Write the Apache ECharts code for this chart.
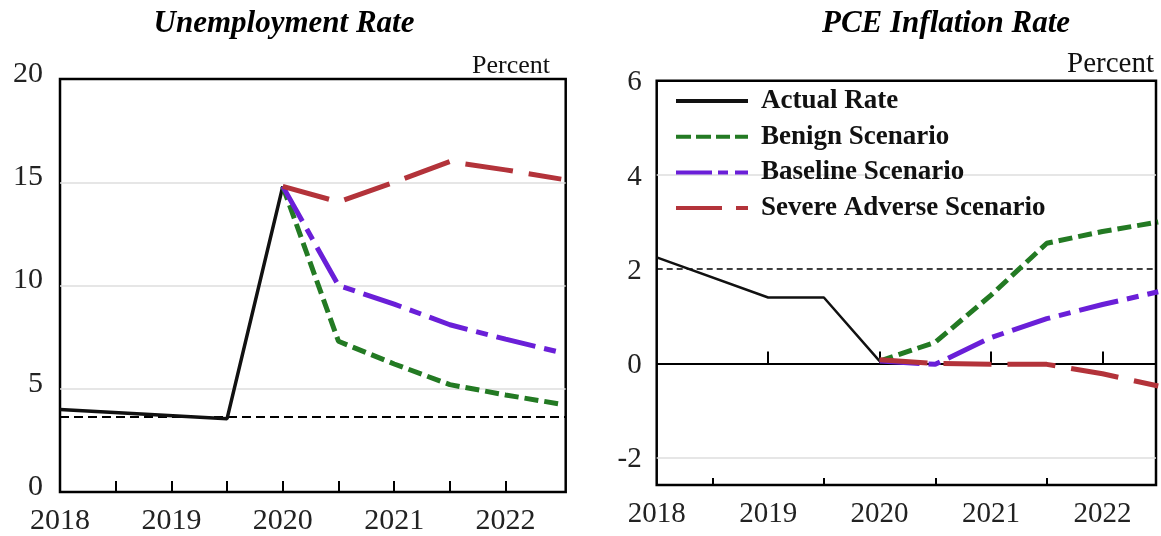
<!DOCTYPE html>
<html><head><meta charset="utf-8">
<script src="https://cdn.jsdelivr.net/npm/echarts@6/dist/echarts.min.js"></script>
<style>html,body{margin:0;padding:0;background:#fff}#c{width:1161px;height:536px}</style>
</head><body><div id="c"></div>
<script>
// ---------- data ----------
const seriesNames = ['Actual Rate', 'Benign Scenario', 'Baseline Scenario', 'Severe Adverse Scenario'];
const yearLabels = [2018, 2019, 2020, 2021, 2022];
const leftTicks = [2018.5, 2019, 2019.5, 2020, 2020.5, 2021, 2021.5, 2022];
const rightMajorTicks = [2019, 2020, 2021, 2022];
const rightMinorTicks = [2018.5, 2019.5, 2020.5, 2021.5];
const pceYLabels = [-2, 0, 2, 4, 6];

// Unemployment rate (percent)
const unActualX = [2018, 2019.5, 2020];
const unActual = [4.0, 3.55, 14.8];
const unScenX = [2020, 2020.5, 2021, 2021.5, 2022, 2022.5];
const unBenign = [14.8, 7.3, 6.2, 5.2, 4.7, 4.25];
const unBaseline = [14.8, 10.0, 9.1, 8.1, 7.4, 6.75];
const unSevere = [14.8, 14.05, 15.0, 16.0, 15.6, 15.15];
const unNatural = [3.65];
const unGrid = [5, 10, 15];

// PCE inflation rate (percent)
const pceActualX = [2018, 2019, 2019.5, 2020];
const pceActual = [2.25, 1.4, 1.4, 0.05];
const pceScenX = [2020, 2020.5, 2021, 2021.5, 2022, 2022.5];
const pceBenign = [0.05, 0.45, 1.45, 2.55, 2.8, 3.0];
const pceBaseline = [0.05, -0.02, 0.55, 0.95, 1.25, 1.52];
const pceSevere = [0.08, 0.0, -0.02, -0.02, -0.22, -0.48];
const pceTarget = [2];
const pceZero = [0];
const pceGrid = [-2, 4];

// ---------- styles ----------
const SERIF = "'Liberation Serif','Times New Roman',serif";
const C = { actual: '#111111', benign: '#237a23', baseline: '#6a1fd8', severe: '#b3333a', grid: '#dedede' };
const DASH = { benign: [14, 6], baseline: [40, 9, 12, 9], severe: [48, 16] };
const ICON = {
  actual: 'path://M0,0H72V4H0Z',
  benign: 'path://M0,0H15V4H0Z M20,0H35V4H20Z M40,0H54V4H40Z M59,0H72V4H59Z',
  baseline: 'path://M0,0H36V4H0Z M42,0H52V4H42Z M59,0H72V4H59Z',
  severe: 'path://M0,0H46V4H0Z M60,0H72V4H60Z'
};
const pair = (xs, ys) => xs.map((x, i) => [x, ys[i]]);

function lineSeries(name, data, xi, color, width, dash) {
  return {
    name, type: 'line', data, xAxisIndex: xi, yAxisIndex: xi, symbol: 'none',
    lineStyle: { color, width, type: dash || 'solid' }, itemStyle: { color },
    z: 3, animation: false
  };
}
function refSeries(xi, lines) {
  return {
    name: 'ref' + xi, type: 'line', data: [], xAxisIndex: xi, yAxisIndex: xi, z: 1, animation: false,
    markLine: { silent: true, z: 1, symbol: ['none', 'none'], label: { show: false }, animation: false, data: lines }
  };
}

const xLabel = (size, margin) => ({
  customValues: yearLabels, formatter: v => String(Math.round(v)),
  fontSize: size, fontFamily: SERIF, color: '#222', margin
});

const option = {
  animation: false,
  backgroundColor: '#fff',
  grid: [
    { left: 60, top: 79, width: 505.7, height: 413.7, show: true, borderColor: '#000', borderWidth: 2.5, backgroundColor: 'transparent' },
    { left: 656.7, top: 80.7, width: 499.3, height: 404.3, show: true, borderColor: '#000', borderWidth: 2.5, backgroundColor: 'transparent' }
  ],
  xAxis: [
    { type: 'value', gridIndex: 0, min: 2018, max: 2022.54, axisLine: { show: false }, splitLine: { show: false },
      axisTick: { show: true, inside: true, length: 11, customValues: leftTicks, lineStyle: { color: '#000', width: 2 } },
      axisLabel: xLabel(30, 14) },
    { type: 'value', gridIndex: 1, min: 2018, max: 2022.48, axisLine: { show: false }, splitLine: { show: false },
      axisTick: { show: true, inside: true, length: 12, customValues: rightMajorTicks, lineStyle: { color: '#000', width: 2 } },
      axisLabel: xLabel(29, 15) },
    { type: 'value', gridIndex: 1, position: 'bottom', offset: 0, min: 2018, max: 2022.48, axisLine: { show: false }, splitLine: { show: false },
      axisTick: { show: true, inside: true, length: 7, customValues: rightMinorTicks, lineStyle: { color: '#000', width: 2 } },
      axisLabel: { show: false } }
  ],
  yAxis: [
    { type: 'value', gridIndex: 0, min: 0, max: 20, interval: 5, axisLine: { show: false }, axisTick: { show: false },
      splitLine: { show: false },
      axisLabel: { fontSize: 30, fontFamily: SERIF, color: '#222', margin: 17, verticalAlign: 'bottom', lineHeight: 10 } },
    { type: 'value', gridIndex: 1, min: -2.58, max: 6, axisLine: { show: false }, axisTick: { show: false },
      splitLine: { show: false },
      axisLabel: { customValues: pceYLabels, fontSize: 29, fontFamily: SERIF, color: '#222', margin: 15, verticalAlign: 'top', lineHeight: 4 } }
  ],
  legend: {
    orient: 'vertical', left: 671, top: 82, itemWidth: 72, itemHeight: 4, itemGap: 7.7,
    data: [
      { name: seriesNames[0], icon: ICON.actual },
      { name: seriesNames[1], icon: ICON.benign },
      { name: seriesNames[2], icon: ICON.baseline },
      { name: seriesNames[3], icon: ICON.severe }
    ],
    selectedMode: false,
    textStyle: { fontFamily: SERIF, fontWeight: 'bold', fontSize: 27, color: '#111', lineHeight: 28, padding: [0, 0, 0, 8] }
  },
  graphic: [
    { type: 'text', x: 284, y: 24, style: { text: 'Unemployment Rate', font: 'italic bold 31px ' + SERIF, align: 'center', verticalAlign: 'middle', fill: '#000' } },
    { type: 'text', x: 946, y: 24, style: { text: 'PCE Inflation Rate', font: 'italic bold 31px ' + SERIF, align: 'center', verticalAlign: 'middle', fill: '#000' } },
    { type: 'text', x: 550, y: 66, style: { text: 'Percent', font: '26px ' + SERIF, align: 'right', verticalAlign: 'middle', fill: '#111' } },
    { type: 'text', x: 1154, y: 64, style: { text: 'Percent', font: '29px ' + SERIF, align: 'right', verticalAlign: 'middle', fill: '#111' } }
  ],
  series: [
    refSeries(0, [
      ...unGrid.map(v => ({ yAxis: v, lineStyle: { color: C.grid, width: 1.5, type: 'solid' } })),
      ...unNatural.map(v => ({ yAxis: v, lineStyle: { color: '#000', width: 2, type: [9, 5] } }))
    ]),
    refSeries(1, [
      ...pceGrid.map(v => ({ yAxis: v, lineStyle: { color: C.grid, width: 1.5, type: 'solid' } })),
      ...pceZero.map(v => ({ yAxis: v, lineStyle: { color: '#000', width: 2, type: 'solid' } })),
      ...pceTarget.map(v => ({ yAxis: v, lineStyle: { color: '#000', width: 1.5, type: [6, 4] } }))
    ]),
    lineSeries(seriesNames[0], pair(unActualX, unActual), 0, C.actual, 3.5),
    lineSeries(seriesNames[1], pair(unScenX, unBenign), 0, C.benign, 5, DASH.benign),
    lineSeries(seriesNames[2], pair(unScenX, unBaseline), 0, C.baseline, 5, DASH.baseline),
    lineSeries(seriesNames[3], pair(unScenX, unSevere), 0, C.severe, 5, DASH.severe),
    lineSeries(seriesNames[0], pair(pceActualX, pceActual), 1, C.actual, 2.5),
    lineSeries(seriesNames[1], pair(pceScenX, pceBenign), 1, C.benign, 5, DASH.benign),
    lineSeries(seriesNames[2], pair(pceScenX, pceBaseline), 1, C.baseline, 5, DASH.baseline),
    lineSeries(seriesNames[3], pair(pceScenX, pceSevere), 1, C.severe, 5, DASH.severe)
  ]
};
const chart = echarts.init(document.getElementById('c'), null, { renderer: 'canvas' });
chart.setOption(option);
</script></body></html>
